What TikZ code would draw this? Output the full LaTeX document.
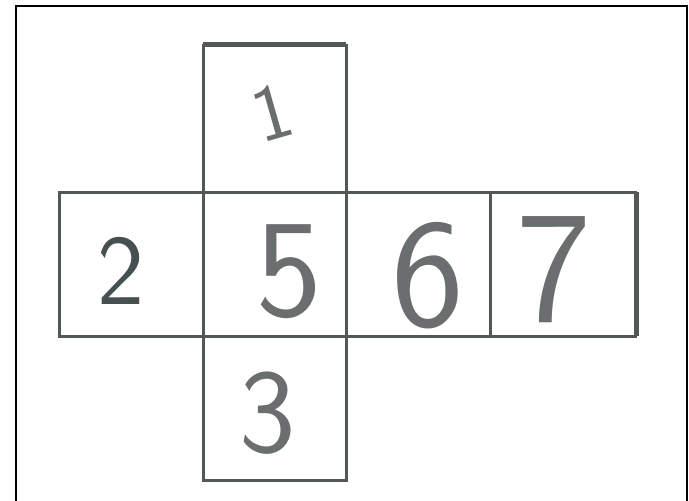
\documentclass[tikz,border=0pt]{standalone}
\usepackage{tikz}
\definecolor{edge}{HTML}{525858}
\definecolor{edgelight}{HTML}{A0A4A4}
\definecolor{ink}{HTML}{6A6E6E}
\definecolor{inkdark}{HTML}{465050}
\tikzset{
  face/.style={draw=edge, line width=3pt},
  digit/.style={font=\sffamily\fontsize{#1}{#1}\selectfont, text=ink, inner sep=0pt},
  frameline/.style={draw=black, line width=2pt}
}
\begin{document}
\begin{tikzpicture}[x=1pt,y=-1pt]
\useasboundingbox (0,0) rectangle (689,501);
\fill[white] (0,0) rectangle (689,501);
% outer frame
\draw[frameline] (16,520) -- (16,6) -- (687,6) -- (687,520);
% faces
\draw[face] (203,45) rectangle (346,192);
\draw[face] (59,192) rectangle (203,336);
\draw[face] (203,192) rectangle (346,336);
\draw[face] (346,192) rectangle (490,336);
\draw[face] (490,192) rectangle (635,336);
\draw[face] (203,336) rectangle (346,480);
% heavier edges
\draw[draw=edge, line width=5pt] (203,44) -- (346,44);
\draw[draw=edge, line width=5pt] (636,192) -- (636,336);
% digits
\node[digit=80, rotate=16] (d1) at (272,112) {1};
\node[digit=100, text=inkdark] (d2) at (121,271) {2};
\node[digit=140] (d5) at (289,272) {5};
\node[digit=155] (d6) at (428,276) {6};
\node[digit=160] (d7) at (554,270) {7};
\node[digit=120] (d3) at (268,413) {3};
\end{tikzpicture}
\end{document}
